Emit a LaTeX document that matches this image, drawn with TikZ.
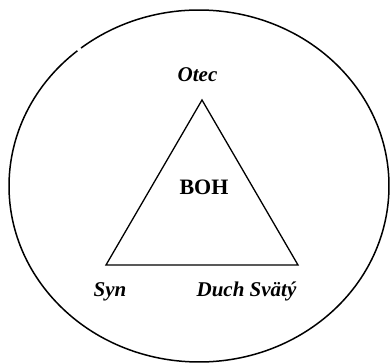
\documentclass[tikz,border=0pt]{standalone}
\usepackage{fontspec}
\setmainfont{Liberation Serif}
\begin{document}
\begin{tikzpicture}[x=1pt,y=1pt,
  lbl/.style={font=\fontsize{21}{24}\selectfont\bfseries\itshape, inner sep=0pt, anchor=base},
  title/.style={font=\fontsize{22}{25}\selectfont\bfseries, inner sep=0pt, anchor=base},
  edge/.style={line width=1.3pt, line join=miter}]
\useasboundingbox (0,0) rectangle (391,363);
\coordinate (c) at (199,177);
\draw[line width=1.5pt] (c) ++(129.8:190 and 176) arc[start angle=129.8, end angle=488.4, x radius=190, y radius=176];
\coordinate (top) at (202,263);
\coordinate (bl) at (106,98);
\coordinate (br) at (298,98);
\draw[edge] (top) -- (br) -- (bl) -- cycle;
\node[lbl] (otec) at (197.5,281) {Otec};
\node[title] (boh) at (204,168) {BOH};
\node[lbl] (syn) at (110,66) {Syn};
\node[lbl] (duch) at (246.5,66) {Duch Svätý};
\end{tikzpicture}
\end{document}
